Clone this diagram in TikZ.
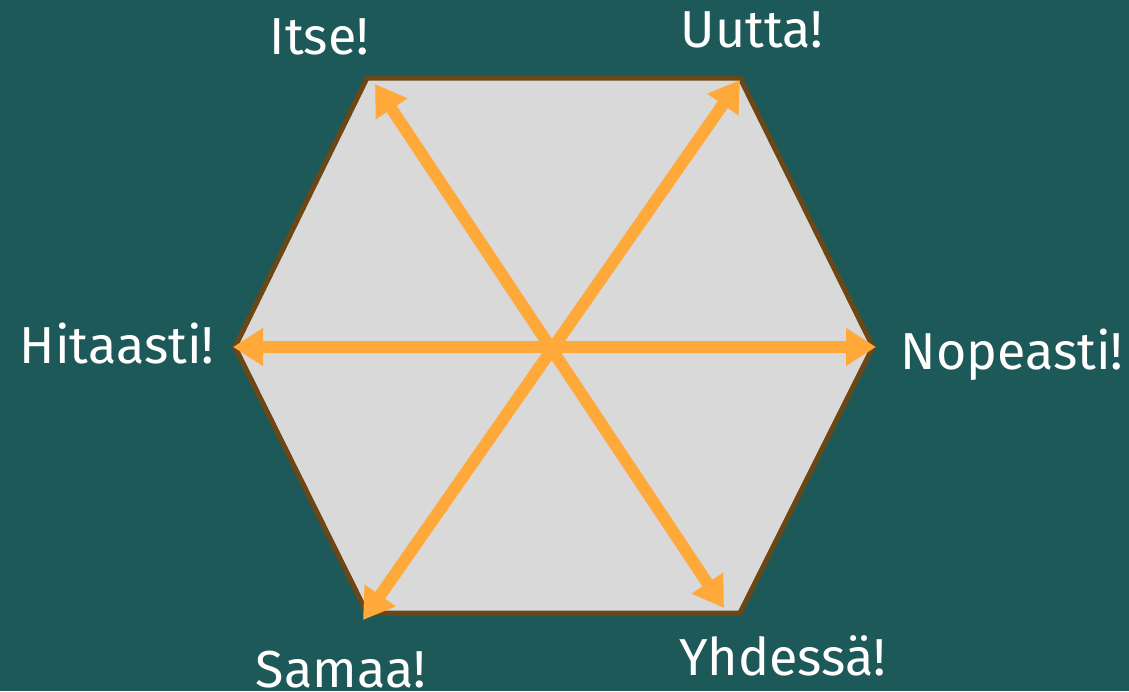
\documentclass[tikz,border=0pt]{standalone}
\usepackage{fontspec}
\setmainfont{Fira Sans}
\usetikzlibrary{arrows.meta}
\definecolor{bgteal}{HTML}{1D5958}
\definecolor{hexfill}{HTML}{D9D9D9}
\definecolor{hexline}{HTML}{6B4716}
\definecolor{arrorange}{HTML}{FFA93A}
\tikzset{
  hexagon/.style={fill=hexfill, draw=hexline, line width=5pt, line join=miter},
  biarrow/.style={draw=arrorange, line width=12pt, {Triangle[length=30pt,width=36pt]}-{Triangle[length=30pt,width=36pt]}},
  lbl/.style={text=white, font=\fontsize{52}{60}\selectfont, inner sep=0pt, anchor=base}
}
\begin{document}
\begin{tikzpicture}[x=1pt,y=-1pt]
\fill[bgteal] (0,0) rectangle (1129,691);
\useasboundingbox (0,0) rectangle (1129,691);
% hexagon vertices
\coordinate (v1) at (367,78);
\coordinate (v2) at (740,78);
\coordinate (v3) at (873,347);
\coordinate (v4) at (740,613);
\coordinate (v5) at (367,613);
\coordinate (v6) at (235,347);
\draw[hexagon] (v1) -- (v2) -- (v3) -- (v4) -- (v5) -- (v6) -- cycle;
% arrow ends
\coordinate (aTL) at (375,84);
\coordinate (aTR) at (740,80);
\coordinate (aR) at (876,347);
\coordinate (aBR) at (724,608);
\coordinate (aBL) at (363,620);
\coordinate (aL) at (233,347);
\draw[biarrow] (aTL) -- (aBR);
\draw[biarrow] (aBL) -- (aTR);
\draw[biarrow] (aL) -- (aR);
% labels
\node[lbl] (itse) at (319.5,54) {Itse!};
\node[lbl] (uutta) at (752,47) {Uutta!};
\node[lbl] (hitaasti) at (117,363) {Hitaasti!};
\node[lbl] (nopeasti) at (1012,369) {Nopeasti!};
\node[lbl] (samaa) at (341,687) {Samaa!};
\node[lbl] (yhdessa) at (783,675) {Yhdessä!};
\end{tikzpicture}
\end{document}
